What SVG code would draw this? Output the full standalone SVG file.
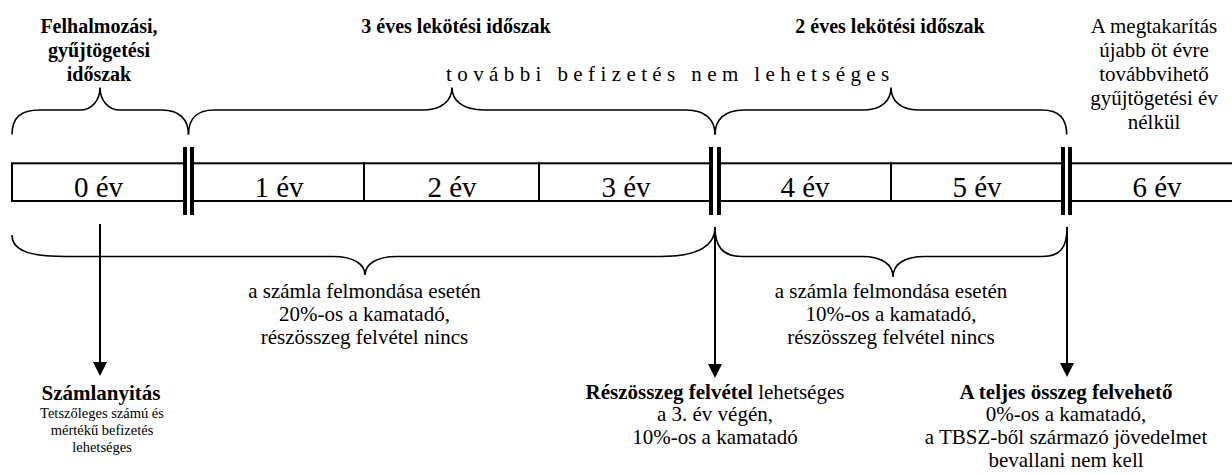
<svg xmlns="http://www.w3.org/2000/svg" width="1232" height="474" viewBox="0 0 1232 474" font-family="'Liberation Serif', 'DejaVu Serif', serif">
<style>
text{font-family:'Liberation Serif','DejaVu Serif',serif;fill:#000}
.b{font-weight:bold;font-size:20px}
.r{font-size:21px}
.c{font-size:29px}
.s{font-size:14.5px}
.mid{text-anchor:middle}
.cell{fill:#fff;stroke:#000;stroke-width:2}
.bar{fill:#000}
.brace{fill:none;stroke:#000;stroke-width:1.6}
.arr{stroke:#000;stroke-width:2;fill:none}
</style>
<defs>
<marker id="ah" viewBox="0 0 14 14" refX="0" refY="7" markerWidth="14" markerHeight="14" markerUnits="userSpaceOnUse" orient="auto">
<path d="M0,0 L14,7 L0,14 z" fill="#000"/>
</marker>
</defs>
<rect width="1232" height="474" fill="#fff"/>

<g id="titles">
<text class="b mid" x="99" y="32.5">Felhalmozási,</text>
<text class="b mid" x="99" y="57">gyűjtögetési</text>
<text class="b mid" x="99" y="81">időszak</text>
<text class="b mid" x="456" y="32.5">3 éves lekötési időszak</text>
<text class="b mid" x="890" y="32.5">2 éves lekötési időszak</text>
<text class="r" x="446" y="80.5" letter-spacing="5.4">további befizetés nem lehetséges</text>
<text class="r mid" x="1154" y="32.5">A megtakarítás</text>
<text class="r mid" x="1154" y="56.7">újabb öt évre</text>
<text class="r mid" x="1154" y="81">továbbvihető</text>
<text class="r mid" x="1154" y="105">gyűjtögetési év</text>
<text class="r mid" x="1154" y="129">nélkül</text>
</g>

<g id="cell0"><rect class="cell" x="12" y="163.3" width="172" height="37.7"/><text class="c mid" x="98.5" y="197">0 év</text></g>
<g id="cell1"><rect class="cell" x="193" y="163.3" width="171" height="37.7"/><text class="c mid" x="279" y="197">1 év</text></g>
<g id="cell2"><rect class="cell" x="364" y="163.3" width="175" height="37.7"/><text class="c mid" x="452" y="197">2 év</text></g>
<g id="cell3"><rect class="cell" x="539" y="163.3" width="172" height="37.7"/><text class="c mid" x="626" y="197">3 év</text></g>
<g id="cell4"><rect class="cell" x="719" y="163.3" width="172" height="37.7"/><text class="c mid" x="805" y="197">4 év</text></g>
<g id="cell5"><rect class="cell" x="891" y="163.3" width="172" height="37.7"/><text class="c mid" x="977" y="197">5 év</text></g>
<g id="cell6"><rect class="cell" x="1070" y="163.3" width="190" height="37.7"/><text class="c mid" x="1157" y="197">6 év</text></g>

<g id="separators">
<rect class="bar" x="183" y="147" width="4" height="68"/>
<rect class="bar" x="190" y="147" width="4" height="68"/>
<rect class="bar" x="709" y="147" width="4" height="68"/>
<rect class="bar" x="717" y="147" width="4" height="68"/>
<rect class="bar" x="1061" y="147" width="4" height="68"/>
<rect class="bar" x="1068" y="147" width="4" height="68"/>
</g>

<g id="braces">
<path class="brace" d="M12,134.5 C12,118 20,110 40,110 L80,110 C92,110 100,100 100,87.5 C100,100 108,110 120,110 L162,110 C180,110 188.5,120 188.5,134.5"/>
<path class="brace" d="M188.5,134.5 C188.5,120 196,110 214,110 L424,110 C442,110 452,100 452,87.5 C452,100 462,110 484,110 L686,110 C706,110 715,120 715,134.5"/>
<path class="brace" d="M715,134.5 C715,120 724,110 744,110 L864,110 C882,110 891,100 891,87.5 C891,100 900,110 918,110 L1042,110 C1060,110 1066.7,120 1066.7,134.5"/>
<path class="brace" d="M12,235 C12,250 28,256.5 66,256.5 L333,256.5 C355,256.5 365,265 365,275 C365,265 375,256.5 397,256.5 L660,256.5 C695,256.5 715,248 715,227"/>
<path class="brace" d="M715,227 C715,246 722,256.5 742,256.5 L862,256.5 C883,256.5 893,265 893,277 C893,265 903,256.5 925,256.5 L1042,256.5 C1060,256.5 1067,248 1067,228"/>
</g>

<g id="connectors">
<line class="arr" x1="100" y1="224" x2="100" y2="362" marker-end="url(#ah)"/>
<line class="arr" x1="715" y1="227" x2="715" y2="364" marker-end="url(#ah)"/>
<line class="arr" x1="1067" y1="227" x2="1067" y2="363" marker-end="url(#ah)"/>
</g>

<g id="note-20">
<text class="r mid" x="364.5" y="298">a számla felmondása esetén</text>
<text class="r mid" x="364.5" y="321">20%-os a kamatadó,</text>
<text class="r mid" x="364.5" y="344">részösszeg felvétel nincs</text>
</g>
<g id="note-10">
<text class="r mid" x="891" y="298">a számla felmondása esetén</text>
<text class="r mid" x="891" y="321">10%-os a kamatadó,</text>
<text class="r mid" x="891" y="344">részösszeg felvétel nincs</text>
</g>

<g id="szamlanyitas">
<text class="mid" x="101" y="400" style="font-weight:bold;font-size:21px">Számlanyitás</text>
<text class="s mid" x="102" y="418">Tetszőleges számú és</text>
<text class="s mid" x="102" y="435">mértékű befizetés</text>
<text class="s mid" x="102" y="452">lehetséges</text>
</g>
<g id="reszosszeg">
<text class="r mid" x="715" y="399"><tspan font-weight="bold">Részösszeg felvétel</tspan> lehetséges</text>
<text class="r mid" x="715" y="421">a 3. év végén,</text>
<text class="r mid" x="715" y="444">10%-os a kamatadó</text>
</g>
<g id="teljes">
<text class="mid" x="1066" y="399" style="font-weight:bold;font-size:21px">A teljes összeg felvehető</text>
<text class="r mid" x="1066" y="421">0%-os a kamatadó,</text>
<text class="r mid" x="1066" y="444">a TBSZ-ből származó jövedelmet</text>
<text class="r mid" x="1066" y="467">bevallani nem kell</text>
</g>
</svg>
